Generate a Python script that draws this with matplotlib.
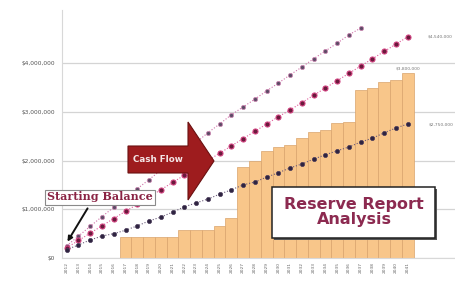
import matplotlib
matplotlib.use("Agg")
import matplotlib.pyplot as plt
from matplotlib.patches import Polygon, Rectangle
from matplotlib.ticker import FuncFormatter

# ---- data (values in $ millions) ----
years = [str(y) for y in range(2012, 2042)]
cash_balance = [None] * 5 + [0.43, 0.43, 0.43, 0.43, 0.43, 0.57, 0.57, 0.57, 0.66, 0.82,
                             1.87, 2.00, 2.20, 2.28, 2.32, 2.46, 2.59, 2.63, 2.77, 2.80,
                             3.45, 3.49, 3.61, 3.65, 3.80]
line_a = [0.25, 0.45, 0.65, 0.85, 1.04, 1.23, 1.42, 1.61, 1.80, 1.99, 2.18, 2.37, 2.57,
          2.75, 2.94, 3.10, 3.26, 3.43, 3.59, 3.76, 3.92, 4.09, 4.25, 4.41, 4.58, 4.72]
line_b = [0.21, 0.36, 0.51, 0.66, 0.81, 0.96, 1.10, 1.25, 1.40, 1.55, 1.70, 1.85, 2.00,
          2.15, 2.30, 2.45, 2.60, 2.75, 2.90, 3.04, 3.19, 3.34, 3.49, 3.64, 3.79, 3.94,
          4.09, 4.24, 4.39, 4.54]
line_c = [0.17, 0.27, 0.37, 0.45, 0.50, 0.57, 0.66, 0.76, 0.84, 0.94, 1.05, 1.13, 1.21,
          1.31, 1.40, 1.50, 1.56, 1.66, 1.75, 1.85, 1.93, 2.03, 2.12, 2.20, 2.28, 2.38,
          2.46, 2.57, 2.67, 2.75]
yticks = [0, 1, 2, 3, 4]

W, H = 456, 293
fig = plt.figure(figsize=(W / 100, H / 100), dpi=100)
fig.patch.set_facecolor("white")


def px(x, y):
    return (x / W, 1 - y / H)


ax = fig.add_axes([62 / W, (H - 258) / H, (W - 62) / W, 248 / H])
ax.set_facecolor("white")

xs = list(range(len(years)))
bx = [i for i, v in enumerate(cash_balance) if v is not None]
bv = [v for v in cash_balance if v is not None]
ax.bar(bx, bv, width=1.0, color="#f8c68a", edgecolor="#d9a46c", linewidth=0.5, zorder=2)

ax.plot(xs[:len(line_a)], line_a, linestyle=":", color="#d070a8", lw=0.8,
        marker="o", ms=3.0, mfc="#5e4a66", mec="#c888b0", mew=0.6, zorder=4)
ax.plot(xs, line_b, linestyle=":", color="#e05a9a", lw=0.8,
        marker="o", ms=3.6, mfc="#6a1a3c", mec="#d0407e", mew=0.8, zorder=4)
ax.plot(xs, line_c, linestyle=":", color="#6a5a7a", lw=0.8,
        marker="o", ms=3.0, mfc="#2e2440", mec="#4a3a5a", mew=0.5, zorder=4)

# end labels
ax.annotate(f"${bv[-1] * 1e6:,.0f}", (bx[-1], bv[-1]), xytext=(0, 2),
            textcoords="offset points", ha="center", va="bottom", fontsize=3.2, color="#777777")
ax.annotate(f"${line_b[-1] * 1e6:,.0f}", (xs[-1], line_b[-1]), xytext=(23, 0),
            textcoords="offset points", ha="center", va="center", fontsize=3.2, color="#777777")
ax.annotate(f"${line_c[-1] * 1e6:,.0f}", (xs[-1], line_c[-1]), xytext=(24, 0),
            textcoords="offset points", ha="center", va="center", fontsize=3.2, color="#777777")

ax.set_xlim(-0.4, 33.1)
ax.set_ylim(0, 5.09)
ax.set_yticks(yticks)
ax.yaxis.set_major_formatter(FuncFormatter(lambda v, p: f"${v * 1e6:,.0f}"))
ax.set_xticks(xs)
ax.set_xticklabels(years, rotation=90, fontsize=3.2, color="#666666")
ax.tick_params(axis="y", labelsize=4.2, labelcolor="#555555", length=0, pad=5)
ax.tick_params(axis="x", length=0, pad=3)
ax.grid(axis="y", color="#d4d4d4", lw=0.9, zorder=0)
ax.set_axisbelow(True)
for s in ["top", "right"]:
    ax.spines[s].set_visible(False)
ax.spines["left"].set_color("#d8d8d8")
ax.spines["bottom"].set_color("#d8d8d8")

# Cash Flow arrow
pts = [px(128, 146), px(188, 146), px(188, 122), px(214, 161), px(188, 200),
       px(188, 173), px(128, 173)]
fig.patches.append(Polygon(pts, closed=True, transform=fig.transFigure,
                           facecolor="#9e1c1e", edgecolor="#6a1010", lw=0.8, zorder=5))
fig.text(*px(158, 159), "Cash Flow", ha="center", va="center", fontsize=6.3,
         color="#f4e6e6", fontweight="bold", zorder=6)

# Starting Balance box + arrow
fig.text(*px(100, 197), "Starting Balance", ha="center", va="center", fontsize=8.0,
         family="DejaVu Serif", fontweight="bold", color="#8a2444", zorder=6,
         bbox=dict(boxstyle="square,pad=0.18", facecolor="white", edgecolor="#8a8a8a", lw=0.8))
fig.add_artist(plt.Annotation("", xy=px(66, 244), xytext=px(89, 206),
                              xycoords="figure fraction", textcoords="figure fraction",
                              arrowprops=dict(arrowstyle="-|>", color="#111111", lw=1.4,
                                              mutation_scale=7)))

# Reserve Report Analysis box
fig.patches.append(Rectangle(px(274, 240), 163 / W, 51 / H, transform=fig.transFigure,
                             facecolor="#555555", edgecolor="none", zorder=5))
fig.patches.append(Rectangle(px(272, 238), 163 / W, 51 / H, transform=fig.transFigure,
                             facecolor="white", edgecolor="#222222", lw=1.1, zorder=6))
fig.text(*px(354, 212), "Reserve Report\nAnalysis", ha="center", va="center", fontsize=11.5,
         fontweight="bold", color="#8c2a50", linespacing=1.0, zorder=7)

fig.savefig("out.png", dpi=100, facecolor="white")
